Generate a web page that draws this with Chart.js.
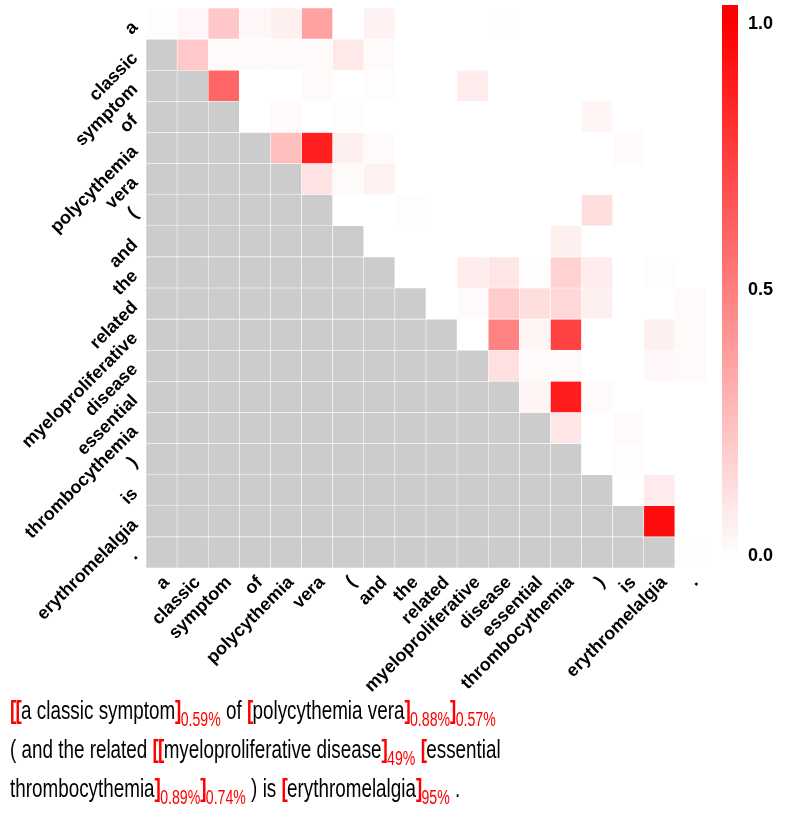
<!DOCTYPE html>
<html>
<head>
<meta charset="utf-8">
<script src="https://cdn.jsdelivr.net/npm/chart.js@4.4.1/dist/chart.umd.min.js"></script>
<style>
  html, body { margin: 0; padding: 0; background: #fff; }
  #wrap { position: relative; width: 789px; height: 823px; overflow: hidden; }
  #chart { position: absolute; left: 0; top: 0; }
  #caption { position: absolute; left: 10px; top: 691px; font-family: "Liberation Sans", Arial, sans-serif; font-size: 26px; color: #000; }
  #caption .ln { height: 39px; line-height: 39px; white-space: nowrap; transform: scaleX(0.725); transform-origin: 0 0; }
  #caption b { color: #ff0000; font-weight: bold; letter-spacing: -1px; }
  #caption sub { color: #ff0000; font-size: 19.5px; vertical-align: -7px; line-height: 0; }
</style>
</head>
<body>
<div id="wrap">
  <canvas id="chart" width="789" height="700"></canvas>
  <div id="caption">
    <div class="ln"><b>[[</b>a classic symptom<b>]</b><sub>0.59%</sub> of <b>[</b>polycythemia vera<b>]</b><sub>0.88%</sub><b>]</b><sub>0.57%</sub></div>
    <div class="ln">( and the related <b>[[</b>myeloproliferative disease<b>]</b><sub>49%</sub> <b>[</b>essential</div>
    <div class="ln">thrombocythemia<b>]</b><sub>0.89%</sub><b>]</b><sub>0.74%</sub> ) is <b>[</b>erythromelalgia<b>]</b><sub>95%</sub> .</div>
  </div>
</div>
<script>
// ---- data ----
const tokens = ["a", "classic", "symptom", "of", "polycythemia", "vera", "(", "and", "the",
  "related", "myeloproliferative", "disease", "essential", "thrombocythemia", ")", "is",
  "erythromelalgia", "."];

// one row per token (row i, columns 0..17); null = masked (lower triangle)
const row_a               = [0.01, 0.03, 0.22, 0.03, 0.06, 0.37, 0, 0.05, 0, 0, 0, 0.01, 0, 0, 0, 0, 0, 0];
const row_classic         = [null, 0.21, 0.02, 0.02, 0.02, 0.02, 0.09, 0.02, 0, 0, 0, 0, 0, 0, 0, 0, 0, 0];
const row_symptom         = [null, null, 0.60, 0, 0, 0.02, 0, 0.01, 0, 0, 0.07, 0, 0, 0, 0, 0, 0, 0];
const row_of              = [null, null, null, 0, 0.02, 0, 0.01, 0, 0, 0, 0, 0, 0, 0, 0.04, 0, 0, 0];
const row_polycythemia    = [null, null, null, null, 0.25, 0.88, 0.06, 0.02, 0, 0, 0, 0, 0, 0, 0, 0.02, 0, 0];
const row_vera            = [null, null, null, null, null, 0.11, 0.02, 0.05, 0, 0, 0, 0, 0, 0, 0, 0, 0, 0];
const row_lparen          = [null, null, null, null, null, null, 0, 0, 0.01, 0, 0, 0, 0, 0, 0.13, 0, 0, 0];
const row_and             = [null, null, null, null, null, null, null, 0, 0, 0, 0, 0, 0, 0.06, 0, 0, 0, 0];
const row_the             = [null, null, null, null, null, null, null, null, 0, 0, 0.07, 0.10, 0.01, 0.18, 0.07, 0, 0.01, 0];
const row_related         = [null, null, null, null, null, null, null, null, null, 0, 0.02, 0.20, 0.13, 0.15, 0.06, 0, 0, 0.02];
const row_myelo           = [null, null, null, null, null, null, null, null, null, null, 0, 0.49, 0.04, 0.74, 0, 0, 0.06, 0.02];
const row_disease         = [null, null, null, null, null, null, null, null, null, null, null, 0.12, 0.02, 0.02, 0, 0, 0.03, 0.02];
const row_essential       = [null, null, null, null, null, null, null, null, null, null, null, null, 0.04, 0.89, 0.02, 0, 0, 0];
const row_thrombo         = [null, null, null, null, null, null, null, null, null, null, null, null, null, 0.10, 0, 0.02, 0, 0];
const row_rparen          = [null, null, null, null, null, null, null, null, null, null, null, null, null, null, 0, 0.01, 0, 0];
const row_is              = [null, null, null, null, null, null, null, null, null, null, null, null, null, null, null, 0, 0.08, 0];
const row_erythromelalgia = [null, null, null, null, null, null, null, null, null, null, null, null, null, null, null, null, 0.95, 0];
const row_period          = [null, null, null, null, null, null, null, null, null, null, null, null, null, null, null, null, null, 0.01];

const rows = [row_a, row_classic, row_symptom, row_of, row_polycythemia, row_vera, row_lparen,
  row_and, row_the, row_related, row_myelo, row_disease, row_essential, row_thrombo,
  row_rparen, row_is, row_erythromelalgia, row_period];

const colorbarTicks = [0.0, 0.5, 1.0];
const colorbarTickLabels = ["0.0", "0.5", "1.0"];

// ---- helpers ----
const MASK = "#cccccc";
function heat(v) {
  const t = Math.max(0, Math.min(1, v));
  const g = Math.round(255 * (1 - t));
  return `rgb(255,${g},${g})`;
}

const datasets = rows.map((vals, r) => ({
  label: tokens[r],
  data: vals.map(() => [r, r + 1]),
  backgroundColor: vals.map(v => v === null ? MASK : heat(v)),
  borderColor: vals.map(v => v === null ? "rgba(255,255,255,0.55)" : "rgba(255,255,255,0.35)"),
  borderWidth: 0.6,
  borderSkipped: false,
  barPercentage: 1,
  categoryPercentage: 1,
  grouped: false,
  yAxisID: "y"
}));

const FONT = "'Liberation Sans', Arial, Helvetica, sans-serif";

function noPad(s) { s.paddingTop = 0; s.paddingBottom = 0; s.paddingLeft = 0; s.paddingRight = 0; }

const colorbarPlugin = {
  id: "colorbar",
  afterDraw(chart) {
    const s = chart.scales.y2;
    const ctx = chart.ctx;
    const x0 = chart.chartArea.right + 16;
    const w = 16;
    const yTop = s.getPixelForValue(s.max) - 3;
    const yBot = s.getPixelForValue(s.min);
    const g = ctx.createLinearGradient(0, s.getPixelForValue(0), 0, s.getPixelForValue(1));
    g.addColorStop(0, heat(0));
    g.addColorStop(1, heat(1));
    ctx.save();
    ctx.fillStyle = g;
    ctx.fillRect(x0, yTop, w, yBot - yTop);
    ctx.restore();
  }
};

new Chart(document.getElementById("chart"), {
  type: "bar",
  data: { labels: tokens, datasets },
  options: {
    responsive: false,
    animation: false,
    layout: { padding: { top: 8, left: 0, right: 0, bottom: 0 } },
    plugins: { legend: { display: false }, tooltip: { enabled: false } },
    scales: {
      x: {
        type: "category",
        offset: true,
        grid: { display: false, drawTicks: false },
        border: { display: false },
        ticks: {
          autoSkip: false, minRotation: 45, maxRotation: 45, padding: 4, labelOffset: 5,
          color: "#000", font: { family: FONT, size: 18, weight: "bold" }
        },
        afterFit(s) { s.height = 132; noPad(s); }
      },
      y: {
        type: "linear",
        reverse: true,
        min: 0, max: tokens.length,
        grid: { display: false, drawTicks: false },
        border: { display: false },
        afterBuildTicks(s) { s.ticks = tokens.map((_, i) => ({ value: i + 0.5 })); },
        ticks: {
          autoSkip: false, minRotation: 45, maxRotation: 45, padding: 11, labelOffset: 1,
          color: "#000", font: { family: FONT, size: 18, weight: "bold" },
          callback: (v) => tokens[Math.floor(v)]
        },
        afterFit(s) { s.width = 146; noPad(s); }
      },
      y2: {
        type: "linear",
        position: "right",
        min: -0.0226, max: 1.03,
        grid: { display: false, drawTicks: false },
        border: { display: false },
        afterBuildTicks(s) { s.ticks = colorbarTicks.map(v => ({ value: v })); },
        ticks: {
          padding: 42, color: "#000",
          font: { family: FONT, size: 18, weight: "bold" },
          callback: (v) => colorbarTickLabels[colorbarTicks.indexOf(v)]
        },
        afterFit(s) { s.width = 83; noPad(s); }
      }
    }
  },
  plugins: [colorbarPlugin]
});
</script>
</body>
</html>
